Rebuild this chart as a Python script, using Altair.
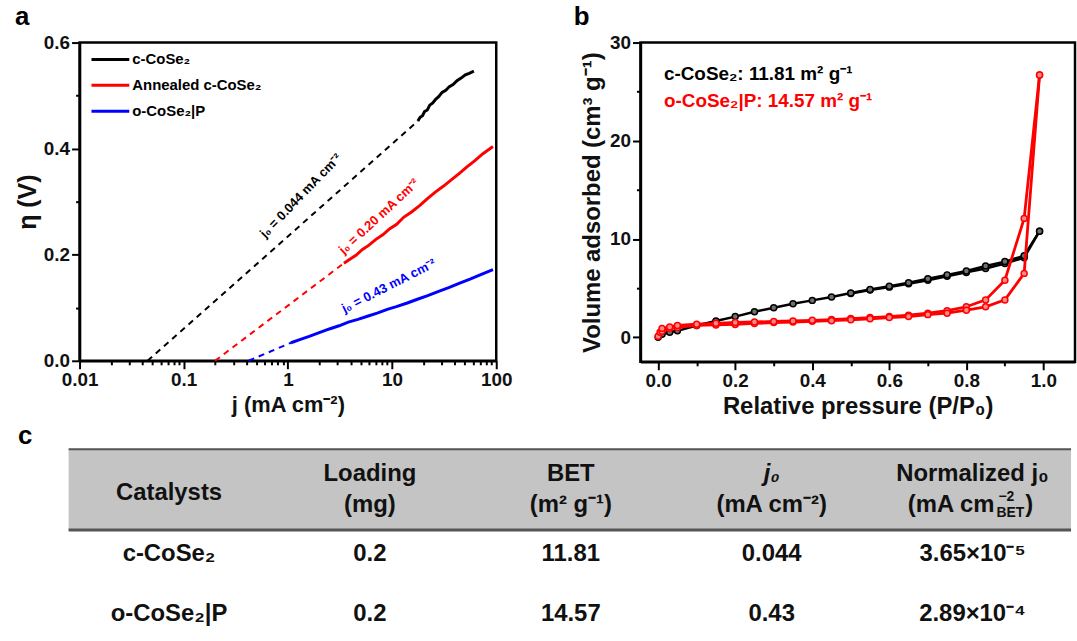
import altair as alt
import pandas as pd

FONT = "Liberation Sans"

# ---------------- panel a : Tafel plots ----------------
series_a = ["c-CoSe₂", "Annealed c-CoSe₂", "o-CoSe₂|P"]
colors_a = ["#000000", "#ff0000", "#0000ff"]

black_j = [17.7, 18.6, 19.6, 20.5, 21.8, 23.0, 24.6, 26.2, 28.0, 30.2, 32.8, 35.5, 38.5, 42.0, 46.0, 50.5, 55.0, 61.0]
black_eta = [0.452, 0.459, 0.462, 0.470, 0.473, 0.482, 0.486, 0.493, 0.498, 0.506, 0.510, 0.517, 0.521, 0.528, 0.533, 0.539, 0.542, 0.546]

red_j = [3.45, 3.9, 4.5, 5.2, 6.0, 7.0, 8.2, 9.5, 11, 13, 15.5, 18.5, 22, 26, 31, 37, 44, 52, 62, 74, 93]
red_eta = [0.184, 0.191, 0.199, 0.210, 0.218, 0.229, 0.238, 0.249, 0.257, 0.271, 0.281, 0.293, 0.306,
           0.318, 0.329, 0.341, 0.353, 0.365, 0.377, 0.390, 0.404]

blue_j = [1.07, 1.3, 1.6, 2.0, 2.5, 3.1, 3.8, 4.7, 5.8, 7.2, 9, 11, 14, 17.5, 22, 28, 35, 44, 56, 72, 93]
blue_eta = [0.034, 0.040, 0.046, 0.053, 0.060, 0.066, 0.073, 0.078, 0.084, 0.090, 0.097, 0.102, 0.109,
            0.116, 0.123, 0.131, 0.138, 0.146, 0.154, 0.163, 0.172]

# extrapolated (dashed) Tafel lines: from j0 (eta = 0) to start of measured data
dash_start_j = [0.045, 0.2, 0.42]
dash_end_j = [17.7, 3.45, 1.07]
dash_end_eta = [0.452, 0.184, 0.034]

ann_text = ["j₀ = 0.044 mA cm⁻²", "j₀ = 0.20 mA cm⁻²", "j₀ = 0.43 mA cm⁻²"]
ann_j = [1.33, 7.5, 9.3]
ann_eta = [0.311, 0.272, 0.141]
ann_angle = [314, 317, 333]

x_a_ticks = [0.01, 0.02, 0.03, 0.04, 0.05, 0.06, 0.07, 0.08, 0.09,
             0.1, 0.2, 0.3, 0.4, 0.5, 0.6, 0.7, 0.8, 0.9,
             1, 2, 3, 4, 5, 6, 7, 8, 9,
             10, 20, 30, 40, 50, 60, 70, 80, 90, 100]
y_a_ticks = [0.0, 0.1, 0.2, 0.3, 0.4, 0.5, 0.6]

# ---------------- panel b : N2 isotherms ----------------
blk_ads_p = [0.0, 0.01, 0.03, 0.05, 0.1, 0.15, 0.2, 0.25, 0.3, 0.35, 0.4, 0.45, 0.5, 0.55, 0.6,
             0.65, 0.7, 0.75, 0.8, 0.85, 0.9, 0.95, 0.99]
blk_ads_v = [0.0, 0.3, 0.5, 0.65, 1.2, 1.65, 2.1, 2.6, 3.0, 3.4, 3.75, 4.1, 4.5, 4.85, 5.2,
             5.55, 5.95, 6.35, 6.75, 7.25, 7.7, 8.3, 10.8]
blk_des_p = [0.99, 0.95, 0.9, 0.85, 0.8, 0.75, 0.7, 0.65, 0.6, 0.55, 0.5]
blk_des_v = [10.8, 8.1, 7.5, 7.0, 6.6, 6.2, 5.8, 5.45, 5.1, 4.8, 4.45]

red_ads_p = [0.0, 0.005, 0.01, 0.03, 0.05, 0.1, 0.15, 0.2, 0.25, 0.3, 0.35, 0.4, 0.45, 0.5, 0.55,
             0.6, 0.65, 0.7, 0.75, 0.8, 0.85, 0.9, 0.95, 0.99]
red_ads_v = [0.1, 0.5, 0.6, 0.9, 1.0, 1.2, 1.25, 1.3, 1.4, 1.5, 1.55, 1.62, 1.68, 1.78, 1.88,
             2.0, 2.1, 2.3, 2.45, 2.75, 3.1, 3.8, 6.5, 26.7]
red_des_p = [0.99, 0.95, 0.9, 0.85, 0.8, 0.75, 0.7, 0.65, 0.6, 0.55, 0.5, 0.45, 0.4, 0.35, 0.3,
             0.25, 0.2, 0.15, 0.1, 0.05, 0.03, 0.01]
red_des_v = [26.7, 12.1, 5.8, 3.8, 3.1, 2.7, 2.45, 2.25, 2.1, 2.0, 1.9, 1.8, 1.72, 1.66, 1.6,
             1.55, 1.5, 1.42, 1.32, 1.2, 1.05, 0.9]

bet_labels = ["c-CoSe₂: 11.81 m² g⁻¹", "o-CoSe₂|P: 14.57 m² g⁻¹"]
bet_colors = ["#000000", "#ff0000"]
bet_p = [0.015, 0.015]
bet_v = [26.8, 24.0]

x_b_ticks = [0.0, 0.1, 0.2, 0.3, 0.4, 0.5, 0.6, 0.7, 0.8, 0.9, 1.0]
y_b_ticks = [0, 5, 10, 15, 20, 25, 30]

# ---------------- panel c : table ----------------
tab_header1 = ["Loading", "BET", "j₀", "Normalized j₀"]
tab_header1_italic = [False, False, True, False]
tab_header2 = ["(mg)", "(m² g⁻¹)", "(mA cm⁻²)"]
tab_catalysts = ["c-CoSe₂", "o-CoSe₂|P"]
tab_loading = ["0.2", "0.2"]
tab_bet = ["11.81", "14.57"]
tab_j0 = ["0.044", "0.43"]
tab_norm = ["3.65×10⁻⁵", "2.89×10⁻⁴"]

# ======================================================
BOLD = dict(font=FONT, fontWeight="bold")

# ---- panel a ----
solid_rows = []
for s, js, es in zip(series_a, [black_j, red_j, blue_j], [black_eta, red_eta, blue_eta]):
    for j, e in zip(js, es):
        solid_rows.append({"series": s, "j": j, "eta": e})
df_solid = pd.DataFrame(solid_rows)

dash_rows = []
for s, j0, j1, e1 in zip(series_a, dash_start_j, dash_end_j, dash_end_eta):
    dash_rows.append({"series": s, "j": j0, "eta": 0.0})
    dash_rows.append({"series": s, "j": j1, "eta": e1})
df_dash = pd.DataFrame(dash_rows)

df_ann = pd.DataFrame({"series": series_a, "text": ann_text, "j": ann_j, "eta": ann_eta, "angle": ann_angle})

major_a_x = "indexof([0.01,0.1,1,10,100], datum.value) >= 0"
axA_x = alt.Axis(values=x_a_ticks, format="~g",
                 labelExpr=f"{major_a_x} ? datum.label : ''",
                 tickSize={"condition": {"test": major_a_x, "value": 8}, "value": 4},
                 title="j (mA cm⁻²)", titlePadding=5, labelPadding=2, titleFontSize=22,
                 labelOverlap=False, labelFlush=False)
major_a_y = "round(datum.value*10) % 2 == 0"
axA_y = alt.Axis(values=y_a_ticks,
                 labelExpr=f"{major_a_y} ? format(datum.value, '.1f') : ''",
                 tickSize={"condition": {"test": major_a_y, "value": 8}, "value": 4},
                 title="η (V)", titlePadding=3, labelPadding=2, titleFontSize=25,
                 labelOverlap=False, labelFlush=False)

xA = alt.X("j:Q", scale=alt.Scale(type="log", domain=[0.01, 100]), axis=axA_x)
yA = alt.Y("eta:Q", scale=alt.Scale(domain=[0, 0.6]), axis=axA_y)
cA = alt.Color("series:N", scale=alt.Scale(domain=series_a, range=colors_a), legend=None)

a_dash = alt.Chart(df_dash).mark_line(strokeWidth=2, strokeDash=[6, 5]).encode(x=xA, y=yA, color=cA)
a_solid = alt.Chart(df_solid).mark_line(strokeWidth=3).encode(x=xA, y=yA, color=cA)
a_ann = alt.Chart(df_ann).mark_text(fontSize=13, **BOLD).encode(
    x=xA, y=yA, color=cA, text="text:N", angle=alt.Angle("angle:Q", scale=None))

a_layers = [a_dash, a_solid, a_ann]
for i, (s, c) in enumerate(zip(series_a, colors_a)):
    yy = 17 + 26 * i
    d = pd.DataFrame({"label": [s]})
    a_layers.append(alt.Chart(d).mark_rule(color=c, strokeWidth=3).encode(
        x=alt.value(12), x2=alt.value(50), y=alt.value(yy)))
    a_layers.append(alt.Chart(d).mark_text(align="left", baseline="middle", fontSize=15,
                                           color="black", **BOLD).encode(
        x=alt.value(53), y=alt.value(yy), text="label:N"))
a_layers.append(alt.Chart(pd.DataFrame({"t": ["a"]})).mark_text(
    align="left", baseline="alphabetic", fontSize=26, color="black", **BOLD).encode(
    x=alt.value(-65), y=alt.value(-18), text="t:N"))

panel_a = alt.layer(*a_layers).properties(width=419, height=320)

# ---- panel b ----
def iso_df(p_ads, v_ads, p_des, v_des):
    rows = []
    for k, (p, v) in enumerate(zip(p_ads, v_ads)):
        rows.append({"branch": "ads", "k": k, "p": p, "v": v})
    for k, (p, v) in enumerate(zip(p_des, v_des)):
        rows.append({"branch": "des", "k": k, "p": p, "v": v})
    return pd.DataFrame(rows)

df_blk = iso_df(blk_ads_p, blk_ads_v, blk_des_p, blk_des_v)
df_red = iso_df(red_ads_p, red_ads_v, red_des_p, red_des_v)

major_b_x = "round(datum.value*10) % 2 == 0"
axB_x = alt.Axis(values=x_b_ticks,
                 labelExpr=f"{major_b_x} ? format(datum.value, '.1f') : ''",
                 tickSize={"condition": {"test": major_b_x, "value": 8}, "value": 4},
                 title="Relative pressure (P/P₀)", titlePadding=4, labelPadding=2, titleFontSize=24,
                 labelOverlap=False, labelFlush=False)
major_b_y = "datum.value % 10 == 0"
axB_y = alt.Axis(values=y_b_ticks,
                 labelExpr=f"{major_b_y} ? format(datum.value, 'd') : ''",
                 tickSize={"condition": {"test": major_b_y, "value": 8}, "value": 4},
                 title="Volume adsorbed (cm³ g⁻¹)", titlePadding=5, labelPadding=2, titleFontSize=24,
                 labelOverlap=False, labelFlush=False)
xB = alt.X("p:Q", scale=alt.Scale(domain=[-0.046, 1.082], nice=False, zero=False), axis=axB_x)
yB = alt.Y("v:Q", scale=alt.Scale(domain=[-2.5, 30], nice=False, zero=False), axis=axB_y)

b_blk = alt.Chart(df_blk).mark_line(
    color="#000000", strokeWidth=2.5,
    point=alt.OverlayMarkDef(filled=True, size=36, fill="#707070", stroke="#000000", strokeWidth=1.5)
).encode(x=xB, y=yB, detail="branch:N", order="k:Q")
b_red = alt.Chart(df_red).mark_line(
    color="#ff0000", strokeWidth=2.8,
    point=alt.OverlayMarkDef(filled=True, size=36, fill="#ff8a8a", stroke="#ff0000", strokeWidth=1.5)
).encode(x=xB, y=yB, detail="branch:N", order="k:Q")

df_bet = pd.DataFrame({"text": bet_labels, "p": bet_p, "v": bet_v, "c": bet_colors})
b_txt = alt.Chart(df_bet).mark_text(align="left", baseline="middle", fontSize=19, **BOLD).encode(
    x=xB, y=yB, text="text:N", color=alt.Color("c:N", scale=None))
b_lab = alt.Chart(pd.DataFrame({"t": ["b"]})).mark_text(
    align="left", baseline="alphabetic", fontSize=26, color="black", **BOLD).encode(
    x=alt.value(-67), y=alt.value(-18), text="t:N")

panel_b = alt.layer(b_blk, b_red, b_txt, b_lab).properties(width=437, height=321)

# ---- panel c : table ----
TW = 997
TX = alt.Scale(domain=[-0.4455, -0.4455 + TW / 202.0], nice=False, zero=False)
TY = alt.Scale(domain=[-0.72, 2.46], nice=False, zero=False, reverse=True)

df_band = pd.DataFrame({"x": [-0.5], "x2": [-0.4455 + TW / 202.0], "y": [-0.72], "y2": [0.61]})
t_band = alt.Chart(df_band).mark_rect(color="#c4c4c4").encode(
    x=alt.X("x:Q", scale=TX, axis=None), x2="x2:Q",
    y=alt.Y("y:Q", scale=TY, axis=None), y2="y2:Q")
t_top = alt.Chart(df_band).mark_rule(color="#555555", strokeWidth=2).encode(
    x=alt.X("x:Q", scale=TX, axis=None), x2="x2:Q", y=alt.Y("y:Q", scale=TY, axis=None))
t_bot = alt.Chart(df_band).mark_rule(color="#555555", strokeWidth=3).encode(
    x=alt.X("x:Q", scale=TX, axis=None), x2="x2:Q", y=alt.Y("y2:Q", scale=TY, axis=None))

cell_rows = [{"col": 0, "row": 0.0, "text": "Catalysts", "it": False}]
for i, (h, it) in enumerate(zip(tab_header1, tab_header1_italic)):
    cell_rows.append({"col": i + 1, "row": -0.31, "text": h, "it": it})
for i, h in enumerate(tab_header2):
    cell_rows.append({"col": i + 1, "row": 0.20, "text": h, "it": False})
for r in range(2):
    for c, col in enumerate([tab_catalysts, tab_loading, tab_bet, tab_j0, tab_norm]):
        cell_rows.append({"col": c, "row": float(r + 1), "text": col[r], "it": False})
df_cells = pd.DataFrame(cell_rows)

enc_cell = dict(x=alt.X("col:Q", scale=TX, axis=None), y=alt.Y("row:Q", scale=TY, axis=None), text="text:N")
t_text = alt.Chart(df_cells).transform_filter("!datum.it").mark_text(
    fontSize=24, color="#111111", baseline="middle", **BOLD).encode(**enc_cell)
t_text_it = alt.Chart(df_cells).transform_filter("datum.it").mark_text(
    fontSize=24, color="#111111", baseline="middle", fontStyle="italic", **BOLD).encode(**enc_cell)

# composite unit (mA cm^-2_BET) for the last header
df_unit = pd.DataFrame({"col": [4], "row": [0.20]})
enc_unit = dict(x=alt.X("col:Q", scale=TX, axis=None), y=alt.Y("row:Q", scale=TY, axis=None))
t_u1 = alt.Chart(df_unit).mark_text(fontSize=24, color="#111111", align="right", baseline="middle",
                                    dx=22, text="(mA cm", **BOLD).encode(**enc_unit)
t_u2 = alt.Chart(df_unit).mark_text(fontSize=14, color="#111111", align="left", baseline="middle",
                                    dx=26, dy=-8, text="−2", **BOLD).encode(**enc_unit)
t_u3 = alt.Chart(df_unit).mark_text(fontSize=14, color="#111111", align="left", baseline="middle",
                                    dx=24, dy=8, text="BET", **BOLD).encode(**enc_unit)
t_u4 = alt.Chart(df_unit).mark_text(fontSize=24, color="#111111", align="left", baseline="middle",
                                    dx=53, text=")", **BOLD).encode(**enc_unit)
t_lab = alt.Chart(pd.DataFrame({"t": ["c"]})).mark_text(
    align="left", baseline="alphabetic", fontSize=26, color="black", **BOLD).encode(
    x=alt.value(-62), y=alt.value(-5), text="t:N")

panel_c = alt.layer(t_band, t_top, t_bot, t_text, t_text_it, t_u1, t_u2, t_u3, t_u4, t_lab).properties(
    width=TW, height=194, view=alt.ViewBackground(stroke="transparent"))

top = alt.hconcat(panel_a, panel_b, spacing=58)
chart = alt.vconcat(top, panel_c, spacing=1).properties(
    padding={"left": 13, "top": 0, "right": 0, "bottom": 0}
).configure_view(stroke="black", strokeWidth=2.5).configure_axis(
    labelFont=FONT, labelFontWeight="bold", labelFontSize=19, labelColor="#111111",
    titleFont=FONT, titleFontWeight="bold", titleFontSize=22, titleColor="#111111",
    domainColor="black", domainWidth=2.5, tickColor="black", tickWidth=2, grid=False
)

chart.save("out.html", embed_options={"renderer": "svg", "actions": False})
